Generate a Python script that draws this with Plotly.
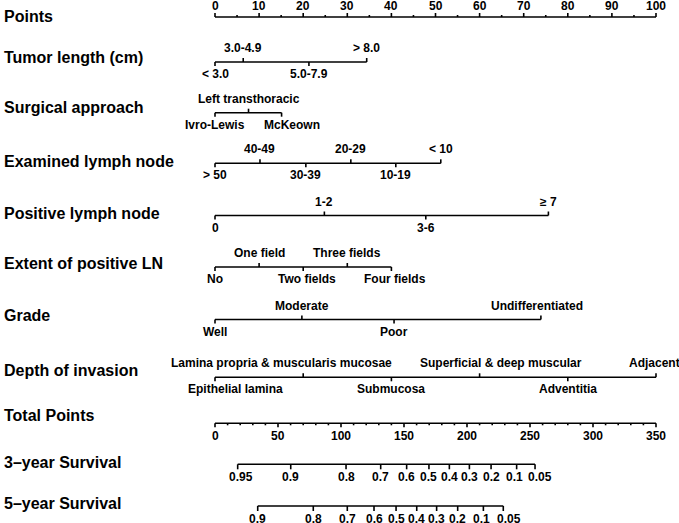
import plotly.graph_objects as go

# ---------------- data ----------------
points_major = list(range(0, 101, 10))
points_minor = list(range(0, 101, 5))

tumor_labels = ["< 3.0", "3.0-4.9", "5.0-7.9", "> 8.0"]
tumor_points = [0, 6.4, 21.3, 34.4]

surg_labels = ["Ivro-Lewis", "Left transthoracic", "McKeown"]
surg_points = [0, 7.6, 15.1]

exam_labels = ["> 50", "40-49", "30-39", "20-29", "10-19", "< 10"]
exam_points = [0, 10.2, 20.6, 30.8, 41.0, 51.2]

pos_labels = ["0", "1-2", "3-6", "≥ 7"]
pos_points = [0, 24.8, 47.8, 75.6]

ext_labels = ["No", "One field", "Two fields", "Three fields", "Four fields"]
ext_points = [0, 10, 20, 30, 40]

grade_labels = ["Well", "Moderate", "Poor", "Undifferentiated"]
grade_points = [0, 19.7, 40.6, 73.9]

depth_labels = ["Epithelial lamina", "Lamina propria & muscularis mucosae", "Submucosa",
                "Superficial & deep muscular", "Adventitia", "Adjacent"]
depth_points = [0, 20, 40, 60, 80, 100]

total_major = list(range(0, 351, 50))
total_minor = list(range(0, 351, 10))
total_max = 350

surv3_labels = ["0.95", "0.9", "0.8", "0.7", "0.6", "0.5", "0.4", "0.3", "0.2", "0.1", "0.05"]
surv3_total = [18.0, 60.1, 104.0, 131.5, 152.1, 169.8, 186.0, 201.9, 219.1, 239.4, 254.0]

surv5_labels = ["0.9", "0.8", "0.7", "0.6", "0.5", "0.4", "0.3", "0.2", "0.1", "0.05"]
surv5_total = [33.9, 78.0, 105.0, 126.2, 143.7, 160.1, 175.9, 192.6, 213.0, 228.8]

row_titles = ["Points", "Tumor length (cm)", "Surgical approach", "Examined lymph node",
              "Positive lymph node", "Extent of positive LN", "Grade", "Depth of invasion",
              "Total Points", "3\u2013year Survival", "5\u2013year Survival"]

# ---------------- layout / style ----------------
W, H = 679, 523
X0_PX, X100_PX = 215, 656
scale = (X100_PX - X0_PX) / 100.0
xr = [-X0_PX / scale, (W - X0_PX) / scale]

row_y = [17, 62, 112.7, 163.3, 215.5, 267, 319.5, 377.3, 423.3, 464.3, 506]
title_dy = [-1, -5, -5, -2, -2, -4, -4, -7, -8, -2, -3]
LW = 1.6
COL = "black"
FONT = "Liberation Sans, Arial, Helvetica, sans-serif"
TICK_FS = 12
TITLE_FS = 16
UP_OFF = 14
DOWN_OFF = 12

# per-label horizontal pixel shifts (row index, label index) -> px
label_shift = {(2, 2): 10, (7, 0): 20, (7, 1): -22, (7, 3): 21, (7, 5): -2,
               (5, 2): 4, (5, 4): 4, (6, 3): -4, (9, 0): 3, (9, 9): -2, (9, 10): 5,
               (10, 8): -2, (10, 9): 6}

fig = go.Figure()
annotations = []


def add_lines(xs_pairs, ys_pairs):
    xs, ys = [], []
    for (xa, xb), (ya, yb) in zip(xs_pairs, ys_pairs):
        xs += [xa, xb, None]
        ys += [ya, yb, None]
    fig.add_trace(go.Scatter(x=xs, y=ys, mode="lines",
                             line=dict(color=COL, width=LW), hoverinfo="skip",
                             showlegend=False))


def label(x, y, text, xshift=0):
    annotations.append(dict(x=x, y=y, xref="x", yref="y", text=text, showarrow=False,
                            xanchor="center", yanchor="middle", xshift=xshift,
                            font=dict(family=FONT, size=TICK_FS, color=COL, weight="bold")))


# Points axis (labels above, ticks up)
y = row_y[0]
pairs_x = [(points_major[0], points_major[-1])]
pairs_y = [(y, y)]
for v in points_minor:
    L = 4 if v in points_major else 2
    pairs_x.append((v, v)); pairs_y.append((y, y - L))
add_lines(pairs_x, pairs_y)
for v in points_major:
    label(v, y - 11, str(v))

# Categorical rows
cats = [(tumor_labels, tumor_points), (surg_labels, surg_points), (exam_labels, exam_points),
        (pos_labels, pos_points), (ext_labels, ext_points), (grade_labels, grade_points),
        (depth_labels, depth_points)]
for r, (labs, pts) in enumerate(cats, start=1):
    y = row_y[r]
    pairs_x = [(min(pts), max(pts))]
    pairs_y = [(y, y)]
    for i, (lb, p) in enumerate(zip(labs, pts)):
        up = (i % 2 == 1)
        pairs_x.append((p, p))
        pairs_y.append((y, y - 4 if up else y + 4))
        label(p, y - UP_OFF if up else y + DOWN_OFF, lb, label_shift.get((r, i), 0))
    add_lines(pairs_x, pairs_y)

# Total points axis (labels below, ticks down)
y = row_y[8]
to_pts = lambda t: t * 100.0 / total_max
pairs_x = [(to_pts(total_major[0]), to_pts(total_major[-1]))]
pairs_y = [(y, y)]
for v in total_minor:
    L = 4 if v in total_major else 2
    pairs_x.append((to_pts(v), to_pts(v))); pairs_y.append((y, y + L))
add_lines(pairs_x, pairs_y)
for v in total_major:
    label(to_pts(v), y + 13, str(v))

# Survival axes
for r, (labs, tots) in [(9, (surv3_labels, surv3_total)), (10, (surv5_labels, surv5_total))]:
    y = row_y[r]
    pts = [to_pts(t) for t in tots]
    pairs_x = [(min(pts), max(pts))]
    pairs_y = [(y, y)]
    for i, (lb, p) in enumerate(zip(labs, pts)):
        pairs_x.append((p, p)); pairs_y.append((y, y + 5))
        label(p, y + 13, lb, label_shift.get((r, i), 0))
    add_lines(pairs_x, pairs_y)

# Row titles
for r, t in enumerate(row_titles):
    annotations.append(dict(x=0, y=row_y[r] + title_dy[r], xref="paper", yref="y", text=t,
                            showarrow=False, xanchor="left", yanchor="middle", xshift=2,
                            font=dict(family=FONT, size=TITLE_FS, color=COL, weight="bold")))

fig.update_layout(
    width=W, height=H, margin=dict(l=0, r=0, t=0, b=0),
    paper_bgcolor="white", plot_bgcolor="white",
    xaxis=dict(range=xr, visible=False, fixedrange=True),
    yaxis=dict(range=[H, 0], visible=False, fixedrange=True),
    annotations=annotations, showlegend=False,
)
fig.write_html("out.html", config={"displayModeBar": False},
               post_script="document.body.style.margin='0';document.body.style.overflow='hidden';")
